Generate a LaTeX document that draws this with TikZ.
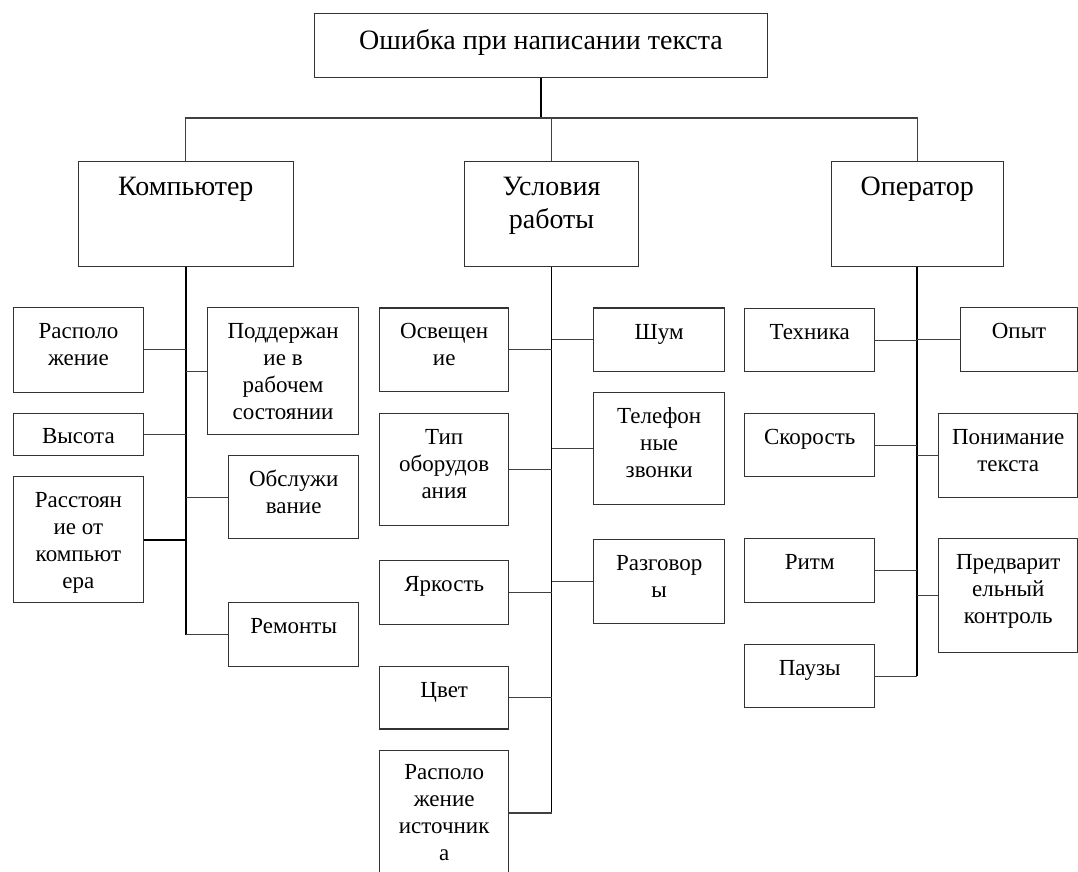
\documentclass[tikz,border=0pt]{standalone}
\usepackage{fontspec}
\setmainfont{Liberation Serif}
\newcommand{\mlines}[1]{\begin{tabular}[t]{@{}c@{}}#1\end{tabular}}
\tikzset{
  box/.style={draw=black!80, line width=1.1pt, inner sep=0pt, anchor=north west, rectangle},
  conn/.style={draw=black!75, line width=1.1pt},
  trunk/.style={draw=black, line width=1.7pt},
  bigtxt/.style={inner sep=0pt, anchor=base, font=\fontsize{28}{33.5}\selectfont},
  smtxt/.style={inner sep=0pt, anchor=base, font=\fontsize{23}{27}\selectfont},
}
\begin{document}
\begin{tikzpicture}[x=1pt,y=1pt]
\useasboundingbox (0,0) rectangle (1078,-872);
\clip (0,0) rectangle (1078,-872);
\fill[white] (0,0) rectangle (1078,-872);

% top
\node[box, minimum width=452.4pt, minimum height=63.4pt] (top) at (314.3,-13.3) {};
\node[bigtxt] (topt) at ([yshift=-36.5pt]top.north) {Ошибка при написании текста};

% level 2
\node[box, minimum width=215pt, minimum height=105pt] (komp) at (77.7,-160.7) {};
\node[bigtxt] (kompt) at ([yshift=-34.5pt]komp.north) {\mlines{Компьютер}};
\node[box, minimum width=173.6pt, minimum height=105pt] (usl) at (464.2,-160.7) {};
\node[bigtxt] (uslt) at ([yshift=-34.5pt]usl.north) {\mlines{Условия\\работы}};
\node[box, minimum width=171.9pt, minimum height=105pt] (oper) at (830.7,-160.7) {};
\node[bigtxt] (opert) at ([yshift=-34.5pt]oper.north) {\mlines{Оператор}};

% Компьютер group
\node[box, minimum width=129.7pt, minimum height=84.7pt] (k1) at (13,-307) {};
\node[smtxt] (k1t) at ([yshift=-31.5pt]k1.north) {\mlines{Располо\\жение}};
\node[box, minimum width=151.6pt, minimum height=127pt] (k2) at (206.7,-307) {};
\node[smtxt] (k2t) at ([yshift=-31.5pt]k2.north) {\mlines{Поддержан\\ие в\\рабочем\\состоянии}};
\node[box, minimum width=129.7pt, minimum height=41.7pt] (k3) at (13,-413.3) {};
\node[smtxt] (k3t) at ([yshift=-30.5pt]k3.north) {\mlines{Высота}};
\node[box, minimum width=129.7pt, minimum height=126.3pt] (k4) at (13,-476) {};
\node[smtxt] (k4t) at ([yshift=-31.5pt]k4.north) {\mlines{Расстоян\\ие от\\компьют\\ера}};
\node[box, minimum width=130.3pt, minimum height=83.3pt] (k5) at (228,-455) {};
\node[smtxt] (k5t) at ([yshift=-31.5pt]k5.north) {\mlines{Обслужи\\вание}};
\node[box, minimum width=130.3pt, minimum height=63.4pt] (k6) at (228,-602.3) {};
\node[smtxt] (k6t) at ([yshift=-31.5pt]k6.north) {\mlines{Ремонты}};

% Условия работы group
\node[box, minimum width=129.3pt, minimum height=83.6pt] (u1) at (379,-307.4) {};
\node[smtxt] (u1t) at ([yshift=-31.5pt]u1.north) {\mlines{Освещен\\ие}};
\node[box, minimum width=130.7pt, minimum height=63.3pt] (u2) at (593.3,-307.4) {};
\node[smtxt] (u2t) at ([yshift=-32pt]u2.north) {\mlines{Шум}};
\node[box, minimum width=129.3pt, minimum height=112.1pt] (u3) at (379,-413.2) {};
\node[smtxt] (u3t) at ([yshift=-31.5pt]u3.north) {\mlines{Тип\\оборудов\\ания}};
\node[box, minimum width=130.7pt, minimum height=112.1pt] (u4) at (593.3,-391.7) {};
\node[smtxt] (u4t) at ([yshift=-31.5pt]u4.north) {\mlines{Телефон\\ные\\звонки}};
\node[box, minimum width=129.3pt, minimum height=63.7pt] (u5) at (379,-560) {};
\node[smtxt] (u5t) at ([yshift=-31.5pt]u5.north) {\mlines{Яркость}};
\node[box, minimum width=130.7pt, minimum height=84.4pt] (u6) at (593.3,-538.6) {};
\node[smtxt] (u6t) at ([yshift=-31.5pt]u6.north) {\mlines{Разговор\\ы}};
\node[box, minimum width=129.3pt, minimum height=62.9pt] (u7) at (379,-665.5) {};
\node[smtxt] (u7t) at ([yshift=-31.5pt]u7.north) {\mlines{Цвет}};
\node[box, minimum width=129.3pt, minimum height=125pt] (u8) at (379,-749.9) {};
\node[smtxt] (u8t) at ([yshift=-30pt]u8.north) {\mlines{Располо\\жение\\источник\\а}};

% Оператор group
\node[box, minimum width=129.7pt, minimum height=62.7pt] (o1) at (744.3,-308.3) {};
\node[smtxt] (o1t) at ([yshift=-31.5pt]o1.north) {\mlines{Техника}};
\node[box, minimum width=117pt, minimum height=63.4pt] (o2) at (960,-307.3) {};
\node[smtxt] (o2t) at ([yshift=-31.5pt]o2.north) {\mlines{Опыт}};
\node[box, minimum width=129.7pt, minimum height=62.4pt] (o3) at (744.3,-413.3) {};
\node[smtxt] (o3t) at ([yshift=-31.5pt]o3.north) {\mlines{Скорость}};
\node[box, minimum width=138.7pt, minimum height=84pt] (o4) at (938.3,-413.3) {};
\node[smtxt] (o4t) at ([yshift=-31.5pt]o4.north) {\mlines{Понимание\\текста}};
\node[box, minimum width=129.7pt, minimum height=64pt] (o5) at (744.3,-538.3) {};
\node[smtxt] (o5t) at ([yshift=-31.5pt]o5.north) {\mlines{Ритм}};
\node[box, minimum width=138.7pt, minimum height=113.4pt] (o6) at (938.3,-538.3) {};
\node[smtxt] (o6t) at ([yshift=-31.5pt]o6.north) {\mlines{Предварит\\ельный\\контроль}};
\node[box, minimum width=129.7pt, minimum height=62.4pt] (o7) at (744.3,-644.3) {};
\node[smtxt] (o7t) at ([yshift=-31.5pt]o7.north) {\mlines{Паузы}};

% top connectors
\coordinate (bus) at (540.5,-118);
\draw[trunk] (top.south) -- (top.south |- bus);
\draw[conn] (komp.north) -- (komp.north |- bus) -- (oper.north |- bus) -- (oper.north);
\draw[conn] (usl.north) -- (usl.north |- bus);

% trunks
\draw[trunk] (komp.south) -- (komp.south |- k6.west);
\draw[trunk] (usl.south) -- (usl.south |- u8.east);
\draw[trunk] (oper.south) -- (oper.south |- o7.east);

% Компьютер branches
\draw[conn] (k1.east) -- (k1.east -| komp.south);
\draw[conn] (k2.west) -- (k2.west -| komp.south);
\draw[conn] (k3.east) -- (k3.east -| komp.south);
\draw[trunk] (k4.east) -- (k4.east -| komp.south);
\draw[conn] (k5.west) -- (k5.west -| komp.south);
\draw[conn] (k6.west) -- (k6.west -| komp.south);

% Условия branches
\draw[conn] (u1.east) -- (u1.east -| usl.south);
\draw[conn] (u2.west) -- (u2.west -| usl.south);
\draw[conn] (u3.east) -- (u3.east -| usl.south);
\draw[conn] (u4.west) -- (u4.west -| usl.south);
\draw[conn] (u5.east) -- (u5.east -| usl.south);
\draw[conn] (u6.west) -- (u6.west -| usl.south);
\draw[conn] (u7.east) -- (u7.east -| usl.south);
\draw[conn] (u8.east) -- (u8.east -| usl.south);

% Оператор branches
\draw[conn] (o1.east) -- (o1.east -| oper.south);
\draw[conn] (o2.west) -- (o2.west -| oper.south);
\draw[conn] (o3.east) -- (o3.east -| oper.south);
\draw[conn] (o4.west) -- (o4.west -| oper.south);
\draw[conn] (o5.east) -- (o5.east -| oper.south);
\draw[conn] (o6.west) -- (o6.west -| oper.south);
\draw[conn] (o7.east) -- (o7.east -| oper.south);
\end{tikzpicture}
\end{document}
